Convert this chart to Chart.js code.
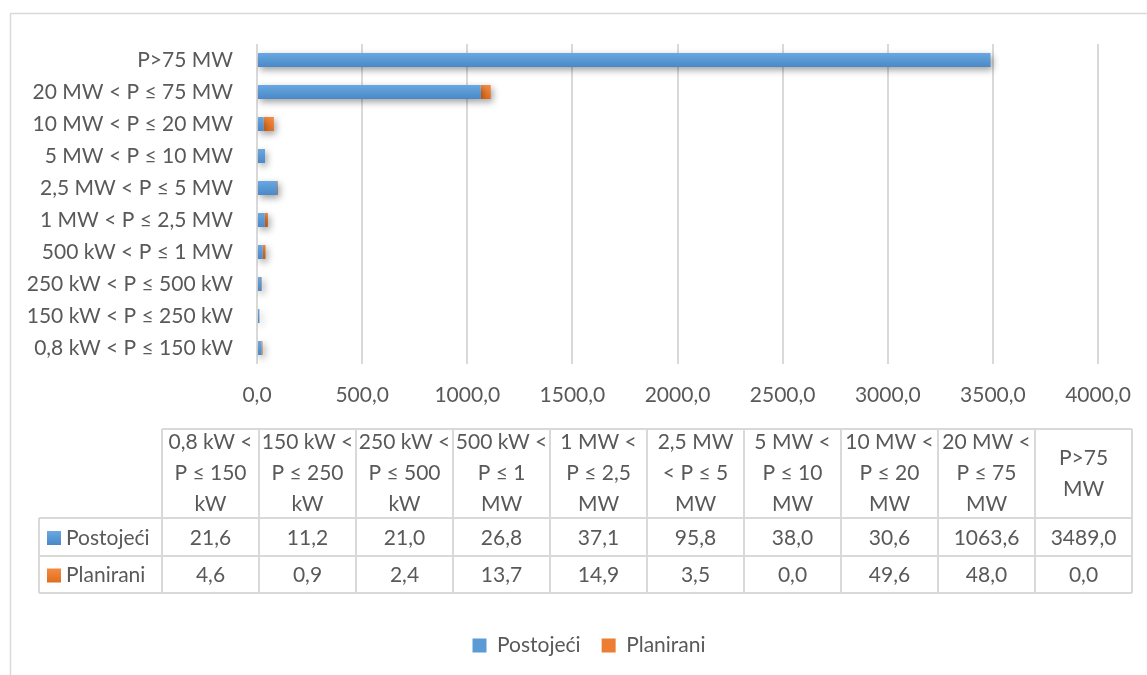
<!DOCTYPE html>
<html>
<head>
<meta charset="utf-8">
<script src="https://cdn.jsdelivr.net/npm/chart.js@4.4.0/dist/chart.umd.min.js"></script>
<style>
  html, body { margin: 0; padding: 0; background: #fff; }
</style>
</head>
<body>
<canvas id="chart" width="1147" height="675"></canvas>
<script>
// categories, bottom to top in the bar chart, left to right in the table
const categories = [
  '0,8 kW < P ≤ 150 kW',
  '150 kW < P ≤ 250 kW',
  '250 kW < P ≤ 500 kW',
  '500 kW < P ≤ 1 MW',
  '1 MW < P ≤ 2,5 MW',
  '2,5 MW < P ≤ 5 MW',
  '5 MW < P ≤ 10 MW',
  '10 MW < P ≤ 20 MW',
  '20 MW < P ≤ 75 MW',
  'P>75 MW'
];

// same categories as they wrap in the data table header
const tableHeaders = [
  ['0,8 kW <', 'P ≤ 150', 'kW'],
  ['150 kW <', 'P ≤ 250', 'kW'],
  ['250 kW <', 'P ≤ 500', 'kW'],
  ['500 kW <', 'P ≤ 1', 'MW'],
  ['1 MW <', 'P ≤ 2,5', 'MW'],
  ['2,5 MW', '< P ≤ 5', 'MW'],
  ['5 MW <', 'P ≤ 10', 'MW'],
  ['10 MW <', 'P ≤ 20', 'MW'],
  ['20 MW <', 'P ≤ 75', 'MW'],
  ['P>75', 'MW']
];

const postojeci = [21.6, 11.2, 21.0, 26.8, 37.1, 95.8, 38.0, 30.6, 1063.6, 3489.0];
const planirani = [4.6, 0.9, 2.4, 13.7, 14.9, 3.5, 0.0, 49.6, 48.0, 0.0];

const seriesNames = ['Postojeći', 'Planirani'];
const xTicks = { min: 0, max: 4000, step: 500 };

const TEXT = '#595959';
const GRID = '#D9D9D9';
const FONT = 'Lato';
const SIZE = 21;
const BLUE = { flat: '#5B9BD5', light: '#6AA8E2', dark: '#4A88C7' };
const ORANGE = { flat: '#ED7D31', light: '#F48B40', dark: '#E06E1F' };

function fmt(v) {
  return v.toFixed(1).replace('.', ',');
}

// vertical gradient per bar, like the Excel bar fill
function barFill(col) {
  return ctx => {
    const chart = ctx.chart;
    const y = chart.scales.y;
    if (ctx.type !== 'data' || !y) return col.flat;
    const c = y.getPixelForValue(ctx.dataIndex);
    if (!isFinite(c)) return col.flat;
    const g = chart.ctx.createLinearGradient(0, c - 7, 0, c + 7);
    g.addColorStop(0, col.light);
    g.addColorStop(1, col.dark);
    return g;
  };
}

const frame = {
  id: 'frame',
  // Excel centres the legend on the whole chart frame, not on the plot
  afterLayout(chart) {
    chart.legend.left += 40;
    chart.legend.right += 40;
  },
  beforeDraw(chart) {
    const c = chart.ctx;
    c.save();
    c.fillStyle = '#fff';
    c.fillRect(0, 0, chart.width, chart.height);
    c.strokeStyle = GRID;
    c.lineWidth = 1.5;
    c.beginPath();
    c.moveTo(10.5, chart.height);
    c.lineTo(10.5, 13.5);
    c.lineTo(chart.width, 13.5);
    c.stroke();
    c.restore();
  }
};

const barShadow = {
  id: 'barShadow',
  beforeDatasetsDraw(chart) {
    const c = chart.ctx;
    c.save();
    c.shadowColor = 'rgba(0,0,0,0.38)';
    c.shadowBlur = 7;
    c.shadowOffsetX = 2;
    c.shadowOffsetY = 3;
  },
  afterDatasetsDraw(chart) {
    chart.ctx.restore();
  }
};

// data table under the axis
const dataTable = {
  id: 'dataTable',
  afterDraw(chart) {
    const c = chart.ctx;
    const left = 39, colStart = 162, colW = 97;
    const top = 429, headBottom = 518, rowBottoms = [556, 593];
    const right = colStart + colW * categories.length;
    const cols = [BLUE, ORANGE];

    c.save();
    c.strokeStyle = GRID;
    c.lineWidth = 2;
    c.beginPath();
    c.moveTo(colStart, top); c.lineTo(right, top);
    c.moveTo(left, headBottom); c.lineTo(right, headBottom);
    rowBottoms.forEach(y => { c.moveTo(left, y); c.lineTo(right, y); });
    c.moveTo(left, headBottom); c.lineTo(left, rowBottoms[1]);
    for (let k = 0; k <= categories.length; k++) {
      const x = colStart + colW * k;
      c.moveTo(x, top); c.lineTo(x, rowBottoms[1]);
    }
    c.stroke();

    c.fillStyle = TEXT;
    c.font = SIZE + 'px ' + FONT;
    c.textAlign = 'center';
    c.textBaseline = 'middle';
    const headMid = (top + headBottom) / 2;
    tableHeaders.forEach((lines, i) => {
      const cx = colStart + colW * i + colW / 2;
      const y0 = headMid - (lines.length - 1) * 31 / 2;
      lines.forEach((t, j) => c.fillText(t, cx, y0 + j * 31));
    });

    const series = [postojeci, planirani];
    series.forEach((vals, r) => {
      const yTop = r === 0 ? headBottom : rowBottoms[0];
      const cy = (yTop + rowBottoms[r]) / 2 + 1;
      c.textAlign = 'center';
      c.fillStyle = TEXT;
      vals.forEach((v, i) => c.fillText(fmt(v), colStart + colW * i + colW / 2, cy));
      const g = c.createLinearGradient(0, cy - 7, 0, cy + 7);
      g.addColorStop(0, cols[r].light);
      g.addColorStop(1, cols[r].dark);
      c.fillStyle = g;
      c.fillRect(47, cy - 7, 14, 14);
      c.fillStyle = TEXT;
      c.textAlign = 'left';
      c.fillText(seriesNames[r], 66, cy);
    });
    c.restore();
  }
};

Chart.defaults.font.family = FONT;
Chart.defaults.font.size = SIZE;
Chart.defaults.color = TEXT;

new Chart(document.getElementById('chart'), {
  type: 'bar',
  data: {
    labels: categories,
    datasets: [
      { label: seriesNames[0], data: postojeci, backgroundColor: barFill(BLUE) },
      { label: seriesNames[1], data: planirani, backgroundColor: barFill(ORANGE) }
    ]
  },
  options: {
    indexAxis: 'y',
    responsive: false,
    animation: false,
    events: [],
    categoryPercentage: 0.5,
    barPercentage: 0.875,
    layout: { padding: { left: 0, right: 49, top: 44, bottom: 9 } },
    scales: {
      x: {
        stacked: true,
        min: xTicks.min,
        max: xTicks.max,
        ticks: { stepSize: xTicks.step, padding: 19, color: TEXT, callback: v => fmt(v), maxRotation: 0 },
        grid: { color: GRID, lineWidth: 2, drawTicks: false },
        border: { display: false },
        afterFit: s => {
          s.height = 250;
          s.paddingLeft = 0;
          s.paddingRight = 0;
        }
      },
      y: {
        stacked: true,
        reverse: true,
        ticks: { padding: 16, color: TEXT, autoSkip: false },
        grid: { display: false },
        border: { display: false },
        afterFit: s => { s.width = 257; }
      }
    },
    plugins: {
      tooltip: { enabled: false },
      legend: {
        position: 'bottom',
        labels: {
          boxWidth: 14,
          boxHeight: 14,
          padding: 21,
          color: TEXT,
          font: { size: SIZE },
          generateLabels: chart => chart.data.datasets.map((d, i) => ({
            text: d.label,
            fillStyle: [BLUE, ORANGE][i].flat,
            strokeStyle: [BLUE, ORANGE][i].flat,
            lineWidth: 0,
            fontColor: TEXT,
            datasetIndex: i
          }))
        }
      }
    }
  },
  plugins: [frame, barShadow, dataTable]
});
</script>
</body>
</html>
